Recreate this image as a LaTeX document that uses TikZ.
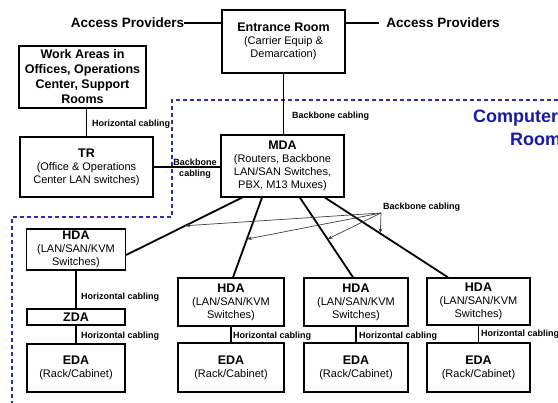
\documentclass[tikz,border=0pt]{standalone}
\usepackage{fontspec}
\setmainfont{Liberation Sans}
\usetikzlibrary{calc,arrows.meta}
\definecolor{roomblue}{RGB}{25,25,165}
\definecolor{dashblue}{RGB}{45,45,180}
\newcommand{\bt}[1]{{\bfseries\fontsize{12.5}{13}\selectfont #1}}
\begin{document}
\begin{tikzpicture}[x=1pt,y=-1pt,
 box/.style={draw,line width=1.3pt,align=center,inner sep=0pt,font=\fontsize{11}{13}\selectfont},
 lbl/.style={font=\bfseries\fontsize{9}{11}\selectfont,inner sep=0pt},
 bigl/.style={font=\bfseries\fontsize{13.5}{15}\selectfont,inner sep=0pt},
 conn/.style={line width=1.1pt},
 trunk/.style={line width=1.8pt},
 pointer/.style={line width=0.7pt,draw=black!75,-{Stealth[length=5pt,width=3.5pt]}},
 room/.style={draw=dashblue,line width=1.3pt,dash pattern=on 4pt off 3pt},
]
\clip (0,0) rectangle (558,403);
\fill[white] (0,0) rectangle (558,403);

% Computer room boundary
\draw[room] (565,100) -- (172,100) -- (172,217) -- (12,217) -- (12,410);
\node[anchor=west,inner sep=0pt,text=roomblue,font=\bfseries\fontsize{18}{20}\selectfont] (comp) at (473,118) {Computer};
\node[anchor=west,inner sep=0pt,text=roomblue,font=\bfseries\fontsize{18}{20}\selectfont] (room) at (510,139) {Room};

% boxes
\node[box,minimum width=123pt,minimum height=63pt] (entrance) at (283.5,41.5) {\bt{Entrance Room}\\(Carrier Equip \&\\Demarcation)};
\node[box,minimum width=127pt,minimum height=62pt,font=\bfseries\fontsize{12.5}{15}\selectfont] (work) at (82.5,77) {Work Areas in\\Offices, Operations\\Center, Support\\Rooms};
\node[box,minimum width=133pt,minimum height=60pt] (tr) at (86.5,167) {\bt{TR}\\(Office \& Operations\\Center LAN switches)};
\node[box,minimum width=123pt,minimum height=62pt] (mda) at (282.5,166) {\bt{MDA}\\(Routers, Backbone\\LAN/SAN Switches,\\PBX, M13 Muxes)};

\node[box,minimum width=99pt,minimum height=41pt] (hda1) at (76,249.5) {\bt{HDA}\\(LAN/SAN/KVM\\Switches)};
\node[box,minimum width=98pt,minimum height=16pt] (zda) at (76,317) {\bt{ZDA}};
\node[box,minimum width=98pt,minimum height=48pt] (eda1) at (76,368) {\bt{EDA}\\(Rack/Cabinet)};

\node[box,minimum width=106pt,minimum height=48pt] (hda2) at (231,302) {\bt{HDA}\\(LAN/SAN/KVM\\Switches)};
\node[box,minimum width=106pt,minimum height=49pt] (eda2) at (231,367.5) {\bt{EDA}\\(Rack/Cabinet)};
\node[box,minimum width=104pt,minimum height=48pt] (hda3) at (356,302) {\bt{HDA}\\(LAN/SAN/KVM\\Switches)};
\node[box,minimum width=104pt,minimum height=49pt] (eda3) at (356,367.5) {\bt{EDA}\\(Rack/Cabinet)};
\node[box,minimum width=103pt,minimum height=47pt] (hda4) at (478.5,301.5) {\bt{HDA}\\(LAN/SAN/KVM\\Switches)};
\node[box,minimum width=103pt,minimum height=49pt] (eda4) at (478.5,367.5) {\bt{EDA}\\(Rack/Cabinet)};

% access providers
\node[bigl] (apl) at (127.5,23) {Access Providers};
\node[bigl] (apr) at (443,23) {Access Providers};
\draw[conn] (apl.east) -- (entrance.west |- apl.east);
\draw[conn] (entrance.east |- apr.west) -- ($(apr.west)+(-7,0)$);

% connectors
\draw[conn] (entrance.south) -- (entrance.south |- mda.north);
\node[lbl,anchor=west] (l1) at (292,116) {Backbone cabling};
\draw[conn] (tr.north |- work.south) -- (tr.north);
\node[lbl,anchor=west] (l2) at (92,124) {Horizontal cabling};
\draw[conn] (tr.east) -- (mda.west |- tr.east);
\node[lbl,align=center] (l3) at (195,168.5) {Backbone\\cabling};

\draw[conn] (hda1.south) -- (zda.north);
\node[lbl,anchor=west] (l4) at (81,297) {Horizontal cabling};
\draw[conn] (zda.south) -- (eda1.north);
\node[lbl,anchor=west] (l5) at (81,336) {Horizontal cabling};
\draw[conn] (hda2.south) -- (eda2.north);
\node[lbl,anchor=west] (l6) at (233,336) {Horizontal cabling};
\draw[conn] (hda3.south) -- (eda3.north);
\node[lbl,anchor=west] (l7) at (359,336) {Horizontal cabling};
\draw[conn] (hda4.south) -- (eda4.north);
\node[lbl,anchor=west] (l8) at (481,334) {Horizontal cabling};

% backbone trunks
\coordinate (s1) at ($(mda.south)+(-40.5,0)$);
\coordinate (e1) at ($(hda1.east)+(0,5.5)$);
\coordinate (s2) at ($(mda.south)+(-20.5,0)$);
\coordinate (e2) at ($(hda2.north)+(2,0)$);
\coordinate (s3) at ($(mda.south)+(17.5,0)$);
\coordinate (e3) at ($(hda3.north)+(-3,0)$);
\coordinate (s4) at ($(mda.south)+(42.5,0)$);
\coordinate (e4) at ($(hda4.north)+(-30.5,0)$);
\draw[trunk] (s1) -- (e1);
\draw[trunk] (s2) -- (e2);
\draw[trunk] (s3) -- (e3);
\draw[trunk] (s4) -- (e4);

% backbone cabling pointers
\node[lbl,anchor=west] (l9) at (383,207) {Backbone cabling};
\coordinate (bbo) at (381,213);
\draw[pointer] (bbo) -- ($(s1)!0.49!(e1)$);
\draw[pointer] (bbo) -- ($(s2)!0.52!(e2)$);
\draw[pointer] (bbo) -- ($(s3)!0.52!(e3)$);
\draw[pointer] (bbo) -- ($(s4)!0.45!(e4)$);
\end{tikzpicture}
\end{document}
